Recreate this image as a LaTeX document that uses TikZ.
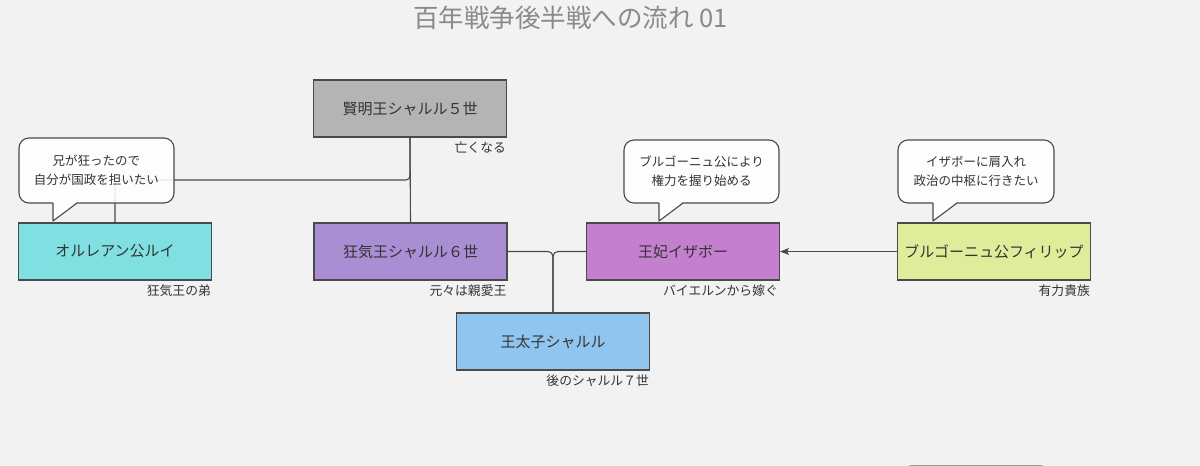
\documentclass[tikz,border=0pt]{standalone}
\usepackage{fontspec}
\setmainfont{Noto Sans CJK JP}
\usetikzlibrary{arrows.meta}
\definecolor{bg}{HTML}{F2F2F2}
\definecolor{edge}{HTML}{4A4A4A}
\definecolor{txt}{HTML}{333333}
\definecolor{cgray}{HTML}{B4B4B4}
\definecolor{ccyan}{HTML}{80DFE0}
\definecolor{cpurple}{HTML}{A98ED3}
\definecolor{corchid}{HTML}{C47FCF}
\definecolor{cblue}{HTML}{8FC5EF}
\definecolor{cyellow}{HTML}{DFEC9A}
\definecolor{ctitle}{HTML}{8A8A8A}
\tikzset{
  box/.style={draw=edge, line width=1.1pt, minimum width=193pt, minimum height=57pt, inner sep=0pt, text=txt, font=\fontsize{15}{18}\selectfont},
  note/.style={anchor=north east, inner sep=0pt, text=txt, font=\fontsize{12.8}{15}\selectfont},
  bubble/.style={draw=edge, line width=1.1pt, rounded corners=10pt, fill=white, fill opacity=0.88, text opacity=1, text=txt, align=center, inner sep=0pt, font=\fontsize{12.5}{19}\selectfont},
  conn/.style={draw=edge, line width=1.1pt},
}
\begin{document}
\begin{tikzpicture}[x=1pt,y=-1pt]
\fill[bg] (0,0) rectangle (1200,466);
\useasboundingbox (0,0) rectangle (1200,466);

\node[text=ctitle, font=\fontsize{25.5}{28}\selectfont] (title) at (570.5,18) {百年戦争後半戦への流れ 01};

% boxes
\node[box, fill=cgray] (c5) at (410,108.5) {賢明王シャルル５世};
\node[box, fill=cpurple] (c6) at (410.5,251.5) {狂気王シャルル６世};
\node[box, fill=ccyan] (louis) at (115,251.5) {オルレアン公ルイ};
\node[box, fill=corchid] (isa) at (683,251.5) {王妃イザボー};
\node[box, fill=cyellow] (phil) at (994,251.5) {ブルゴーニュ公フィリップ};
\node[box, fill=cblue] (c7) at (553,341.5) {王太子シャルル};

% notes
\node[note] (n5) at ([xshift=-1pt,yshift=-4pt]c5.south east) {亡くなる};
\node[note] (n6) at ([xshift=-1pt,yshift=-4pt]c6.south east) {元々は親愛王};
\node[note] (nl) at ([xshift=-1pt,yshift=-4pt]louis.south east) {狂気王の弟};
\node[note] (ni) at ([xshift=-2pt,yshift=-4pt]isa.south east) {バイエルンから嫁ぐ};
\node[note] (np) at ([xshift=-1pt,yshift=-4pt]phil.south east) {有力貴族};
\node[note] (n7) at ([xshift=-1pt,yshift=-4pt]c7.south east) {後のシャルル７世};

% connectors
\draw[conn] (c5.south) -- (c6.north);
\draw[conn, rounded corners=4pt] (louis.north) |- (410,180) -- (c5.south);
\draw[conn, rounded corners=5pt] (c7.north) |- (c6.east);
\draw[conn, rounded corners=5pt] (c7.north) |- (isa.west);
\draw[conn, -{Stealth[length=9pt,width=7pt,inset=2pt]}] (phil.west) -- (isa.east);

% bubbles
\node[bubble, minimum width=155pt, minimum height=65pt] (b1) at (96.5,170.5) {兄が狂ったので\\自分が国政を担いたい};
\coordinate (t1) at (53,221);
\fill[white] (53,202) -- (t1) -- (77,202) -- cycle;
\draw[conn, line join=round] (53,203) -- (t1) -- (77,203);

\node[bubble, minimum width=155pt, minimum height=63pt] (b2) at (701.5,171.5) {ブルゴーニュ公により\\権力を握り始める};
\coordinate (t2) at (659,221);
\fill[white] (659,202) -- (t2) -- (683,202) -- cycle;
\draw[conn, line join=round] (659,203) -- (t2) -- (683,203);

\node[bubble, minimum width=156pt, minimum height=63pt] (b3) at (976,171.5) {イザボーに肩入れ\\政治の中枢に行きたい};
\coordinate (t3) at (933,221);
\fill[white] (933,202) -- (t3) -- (957,202) -- cycle;
\draw[conn, line join=round] (933,203) -- (t3) -- (957,203);

% partial shape at bottom edge
\draw[draw=gray!80, line width=1pt, rounded corners=4pt] (907,480) -- (907,465.5) -- (1045,465.5) -- (1045,480);
\end{tikzpicture}
\end{document}
